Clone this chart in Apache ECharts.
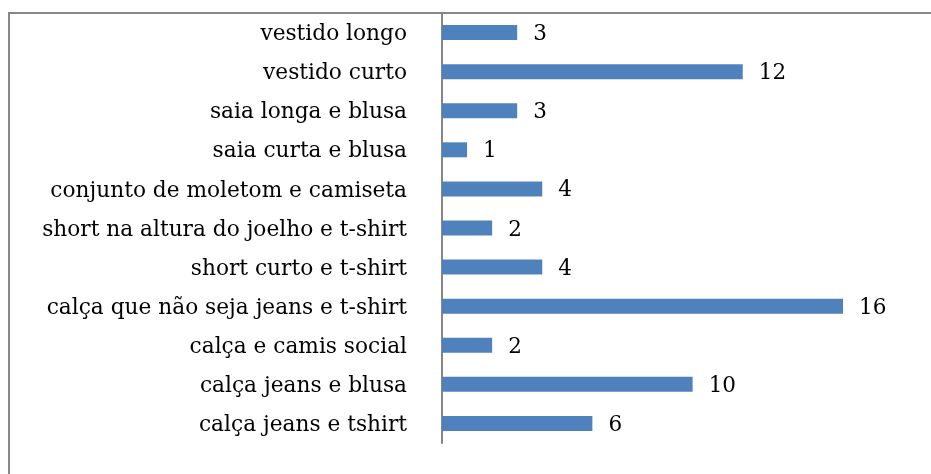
<!DOCTYPE html>
<html><head><meta charset="utf-8">
<script src="https://cdn.jsdelivr.net/npm/echarts@6/dist/echarts.min.js"></script>
<style>html,body{margin:0;padding:0;background:#fff}#c{width:931px;height:474px}</style>
</head><body><div id="c"></div>
<script>
const categories = ["calça jeans e tshirt","calça jeans e blusa","calça e camis social","calça que não seja jeans e t-shirt","short curto e t-shirt","short na altura do joelho e t-shirt","conjunto de moletom e camiseta","saia curta e blusa","saia longa e blusa","vestido curto","vestido longo"];
const values = [6,10,2,16,4,2,4,1,3,12,3];
const FONT = "DejaVu Serif";
const chart = echarts.init(document.getElementById('c'), null, {renderer:'canvas'});
chart.setOption({
  animation:false,
  backgroundColor:'#fff',
  grid:{left:442, right:88, top:13, bottom:31, containLabel:false},
  xAxis:{type:'value', min:0, max:16, show:false},
  yAxis:{type:'category', data:categories,
    axisLine:{show:true, lineStyle:{color:'#868686', width:2}},
    axisTick:{show:false},
    axisLabel:{color:'#000', fontFamily:FONT, fontSize:21.7, margin:35, verticalAlign:'top', lineHeight:4}},
  series:[{type:'bar', data:values, barWidth:15,
    itemStyle:{color:'#4f81bd'},
    label:{show:true, position:'right', distance:16, offset:[0,2], color:'#000', fontFamily:FONT, fontSize:21.5}}],
  graphic:[
    {type:'polyline', shape:{points:[[9,474],[9,13],[931,13]]}, style:{stroke:'#878787', lineWidth:2, fill:null}}
  ]
});
</script></body></html>
